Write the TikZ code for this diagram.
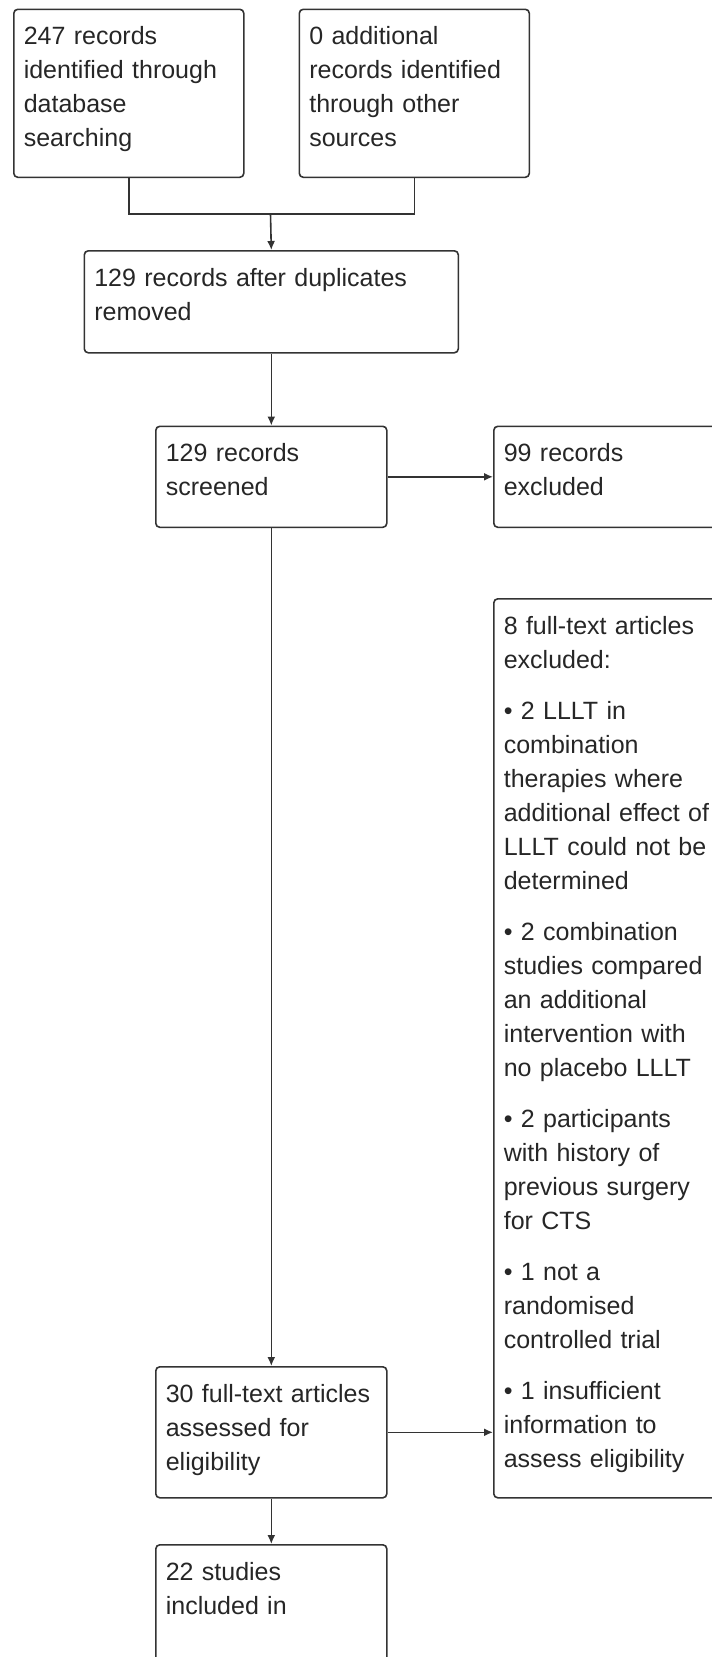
\documentclass[tikz,border=0pt]{standalone}
\usepackage{fontspec}
\setmainfont{Liberation Sans}
\usetikzlibrary{arrows.meta,positioning,calc}

\begin{document}
\begin{tikzpicture}[x=1pt,y=-1pt,
  flowbox/.style={draw=black!80, line width=1.6pt, rounded corners=4pt,
    anchor=north west, inner xsep=10pt, inner ysep=10pt, text width=211pt,
    text height=25.5pt, align=left, text=black!85,
    font=\fontsize{25}{34}\selectfont},
  link/.style={draw=black!80, line width=1.6pt},
  arr/.style={link, -{Latex[length=9pt,width=8pt]}}]
  \useasboundingbox (0,0) rectangle (712,1657);
  \clip (0,0) rectangle (712,1657);

  % Identification
  \node[flowbox, text width=210pt, text depth=122.5pt] (db) at (13,8.5)
    {247 records\\identified through\\database\\searching};
  \node[flowbox, text width=210pt, text depth=122.5pt] (other) at (298.5,8.5)
    {0 additional\\records identified\\through other\\sources};
  \coordinate (join) at (270.5,214);

  % Screening
  \node[flowbox, text width=354pt, text depth=56.5pt] (dup) at (83.5,250)
    {129 records after duplicates\\removed};
  \node[flowbox, text depth=55.5pt] (screen) at (155,425.5)
    {129 records\\screened};
  \node[flowbox, text depth=55.5pt] (excl) at (493,425.5)
    {99 records\\excluded};

  % Eligibility
  \node[flowbox, text depth=853.5pt] (ftexcl) at (493,598)
    {8 full-text articles\\excluded:\\[17pt]
     • 2 LLLT in\\combination\\therapies where\\additional effect of\\LLLT could not be\\determined\\[17pt]
     • 2 combination\\studies compared\\an additional\\intervention with\\no placebo LLLT\\[17pt]
     • 2 participants\\with history of\\previous surgery\\for CTS\\[17pt]
     • 1 not a\\randomised\\controlled trial\\[17pt]
     • 1 insufficient\\information to\\assess eligibility};
  \node[flowbox, text depth=85.5pt] (fulltext) at (155,1366)
    {30 full-text articles\\assessed for\\eligibility};

  % Included
  \node[flowbox, text depth=114.5pt] (incl) at (155,1544)
    {22 studies\\included in};

  % Connectors
  \draw[link] (db.south) |- (join) -| (other.south);
  \draw[arr] (join) -- (dup.north);
  \draw[arr] (dup.south) -- (screen.north);
  \draw[arr] (screen.east) -- (excl.west);
  \draw[arr] (screen.south) -- (fulltext.north);
  \draw[arr] (fulltext.east) -- (fulltext.east -| ftexcl.west);
  \draw[arr] (fulltext.south) -- (incl.north);
\end{tikzpicture}
\end{document}
